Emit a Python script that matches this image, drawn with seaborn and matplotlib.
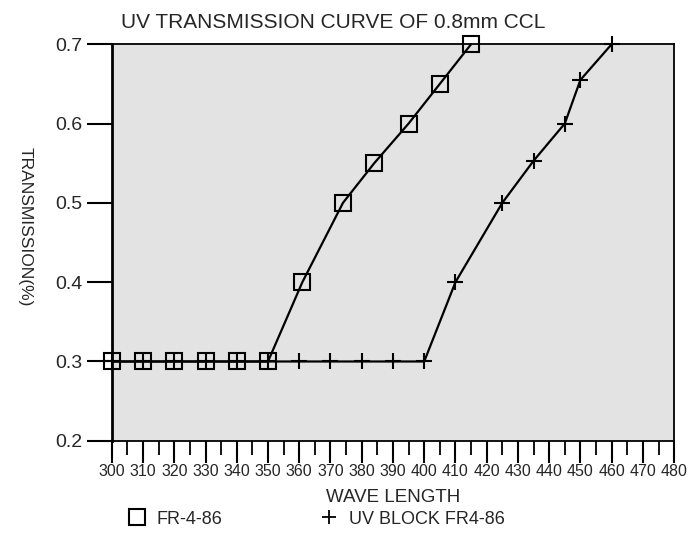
import matplotlib
matplotlib.use('Agg')
import matplotlib.pyplot as plt
from matplotlib.lines import Line2D
from matplotlib.ticker import MultipleLocator
import seaborn as sns

# data
fr4_wave = [300, 310, 320, 330, 340, 350, 361, 374, 384, 395, 405, 415]
fr4_trans = [0.3, 0.3, 0.3, 0.3, 0.3, 0.3, 0.4, 0.5, 0.55, 0.6, 0.65, 0.7]
uvb_wave = [300, 310, 320, 330, 340, 350, 360, 370, 380, 390, 400, 410, 425, 435, 445, 450, 460]
uvb_trans = [0.3, 0.3, 0.3, 0.3, 0.3, 0.3, 0.3, 0.3, 0.3, 0.3, 0.3, 0.4, 0.5, 0.553, 0.6, 0.655, 0.7]
x_ticks = list(range(300, 481, 10))
y_ticks = [0.2, 0.3, 0.4, 0.5, 0.6, 0.7]

sns.set_style('ticks')
plt.rcParams['font.family'] = ['Liberation Sans', 'DejaVu Sans']

fig, ax = plt.subplots(figsize=(6.9, 5.33), dpi=100)
fig.subplots_adjust(left=0.162, right=0.977, top=0.917, bottom=0.173)
ax.set_facecolor('#e3e3e3')

# FR-4-86
sns.lineplot(x=fr4_wave, y=fr4_trans, ax=ax, color='black', linewidth=1.6,
             marker='s', markersize=11.5, markerfacecolor='none',
             markeredgecolor='black', markeredgewidth=1.5,
             estimator=None, sort=False, legend=False, clip_on=False, zorder=3)
# UV BLOCK FR4-86
sns.lineplot(x=uvb_wave, y=uvb_trans, ax=ax, color='black', linewidth=1.6,
             marker='+', markersize=11, markeredgecolor='black',
             markeredgewidth=1.5,
             estimator=None, sort=False, legend=False, clip_on=False, zorder=4)

ax.set_xlim(300, 480)
ax.set_ylim(0.2, 0.7)
ax.set_xticks(x_ticks)
ax.xaxis.set_minor_locator(MultipleLocator(5))
ax.set_yticks(y_ticks)
ax.set_yticklabels(['{:.1f}'.format(v) for v in y_ticks])

ax.tick_params(axis='x', which='major', direction='out', length=16, width=1.5,
               pad=1, labelsize=11.5, color='black')
ax.tick_params(axis='x', which='minor', direction='out', length=10, width=1.3,
               color='black')
ax.tick_params(axis='y', which='major', direction='out', length=18, width=1.5,
               pad=3, labelsize=14, color='black')

for side in ['top', 'right', 'bottom']:
    ax.spines[side].set_linewidth(1.3)
    ax.spines[side].set_color('black')
ax.spines['left'].set_linewidth(2.0)
ax.spines['left'].set_color('black')

ax.set_title('UV TRANSMISSION CURVE OF 0.8mm CCL', loc='left', x=0.017,
             fontsize=15, pad=12)
ax.set_xlabel('WAVE LENGTH', fontsize=13.5, labelpad=7)
ax.set_ylabel('TRANSMISSION(%)', fontsize=12.5, rotation=270,
              va='center', ha='center')
ax.yaxis.set_label_coords(-0.154, 0.54)

handles = [
    Line2D([], [], color='black', marker='s', markersize=11.5,
           markerfacecolor='none', markeredgewidth=1.5, linestyle='none'),
    Line2D([], [], color='black', marker='+', markersize=10,
           markeredgewidth=1.3, linestyle='none'),
]
ax.legend(handles, ['FR-4-86', 'UV BLOCK FR4-86'], ncol=2, frameon=False,
          loc='center left', bbox_to_anchor=(126 / 690, 1 - 519 / 533),
          bbox_transform=fig.transFigure, borderpad=0, borderaxespad=0,
          handlelength=1.2, handletextpad=0.5, columnspacing=5.3,
          fontsize=13)

plt.savefig('out.png', dpi=100)
